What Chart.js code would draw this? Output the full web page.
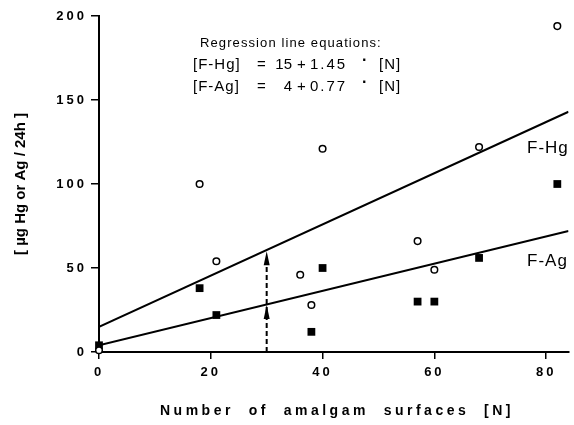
<!DOCTYPE html>
<html>
<head>
<meta charset="utf-8">
<script src="https://cdn.jsdelivr.net/npm/chart.js@4.4.0/dist/chart.umd.min.js"></script>
<style>
  html, body { margin: 0; padding: 0; background: #fff; }
</style>
</head>
<body>
<canvas id="amalgamChart" width="574" height="425"></canvas>
<script>
// values
const hgN   = [0, 18, 21, 36, 38, 40, 57, 60, 68, 82];
const hgVal = [1, 100, 54, 46, 28, 121, 66, 49, 122, 194];
const agN   = [0, 18, 21, 38, 40, 57, 60, 68, 82];
const agVal = [4, 38, 22, 12, 50, 30, 30, 56, 100];

// regression lines as drawn (N = 0 and right edge of the plot)
const fitN  = [0, 84];
const fitHg = [15, 143];
const fitAg = [4, 72];

// dashed arrow at N = 30, arrow tips on the two lines
const arrowN = 30;
const arrowTips = [60, 28];

const xTicks = [0, 20, 40, 60, 80];
const yTicks = [0, 50, 100, 150, 200];

const FONT = 'Liberation Sans, Arial, Helvetica, sans-serif';

const pts = (xs, ys) => xs.map((x, i) => ({ x: x, y: ys[i] }));

// text and the arrow, drawn on top of the chart
const scanExtras = {
  id: 'scanExtras',
  beforeDraw(chart) {
    chart.ctx.letterSpacing = '3px'; // wide tick digits like the scan
  },
  afterDatasetsDraw(chart) {
    const ctx = chart.ctx;
    const xs = chart.scales.x, ys = chart.scales.y;
    const px = xs.getPixelForValue(arrowN);
    ctx.save();
    ctx.strokeStyle = '#000';
    ctx.fillStyle = '#000';
    ctx.lineWidth = 2;
    ctx.setLineDash([5, 3]);
    ctx.beginPath();
    ctx.moveTo(px, ys.getPixelForValue(0));
    ctx.lineTo(px, ys.getPixelForValue(arrowTips[0]) + 6);
    ctx.stroke();
    ctx.setLineDash([]);
    arrowTips.forEach(v => {
      const py = ys.getPixelForValue(v);
      ctx.beginPath();
      ctx.moveTo(px, py);
      ctx.lineTo(px - 3, py + 14);
      ctx.lineTo(px + 3, py + 14);
      ctx.closePath();
      ctx.fill();
    });
    ctx.restore();
  },
  afterDraw(chart) {
    const ctx = chart.ctx;
    ctx.save();
    ctx.fillStyle = '#000';

    // y axis title
    ctx.save();
    ctx.translate(21, 184);
    ctx.rotate(-Math.PI / 2);
    ctx.font = 'bold 15px ' + FONT;
    ctx.letterSpacing = '0px';
    ctx.textAlign = 'center';
    ctx.textBaseline = 'middle';
    ctx.fillText('[ µg Hg or Ag / 24h ]', 0, 0);
    ctx.restore();

    // x axis title
    ctx.font = 'bold 14px ' + FONT;
    ctx.letterSpacing = '3.5px';
    ctx.textAlign = 'left';
    ctx.textBaseline = 'alphabetic';
    ctx.fillText('Number  of  amalgam  surfaces  [N]', 160, 415);

    // regression equations
    ctx.font = '13px ' + FONT;
    ctx.letterSpacing = '1.1px';
    ctx.fillText('Regression line equations:', 200, 47);

    const eqs = [['[F-Hg]', '15', '1.45', 69], ['[F-Ag]', '4', '0.77', 91]];
    eqs.forEach(e => {
      const y = e[3];
      ctx.font = '15px ' + FONT;
      ctx.textAlign = 'left';
      ctx.letterSpacing = '1px';
      ctx.fillText(e[0], 193, y);
      ctx.fillText('=', 257, y);
      ctx.fillText('+', 297, y);
      ctx.fillText('[N]', 379, y);
      ctx.letterSpacing = '2px';
      ctx.fillText(e[2], 310, y);
      ctx.letterSpacing = '0px';
      ctx.textAlign = 'right';
      ctx.fillText(e[1], 292, y);
      ctx.textAlign = 'left';
      ctx.font = 'bold 16px ' + FONT;
      ctx.fillText('·', 362, y - 4);
    });

    // line labels
    ctx.textAlign = 'left';
    ctx.font = '17px ' + FONT;
    ctx.letterSpacing = '1px';
    ctx.fillText('F-Hg', 527, 153);
    ctx.fillText('F-Ag', 527, 266);

    ctx.restore();
  }
};

const ctx = document.getElementById('amalgamChart').getContext('2d');
new Chart(ctx, {
  type: 'scatter',
  data: {
    datasets: [
      {
        label: 'F-Hg fit',
        data: pts(fitN, fitHg),
        showLine: true,
        borderColor: '#000',
        borderWidth: 2,
        pointRadius: 0
      },
      {
        label: 'F-Ag fit',
        data: pts(fitN, fitAg),
        showLine: true,
        borderColor: '#000',
        borderWidth: 2,
        pointRadius: 0
      },
      {
        label: 'F-Hg',
        data: pts(hgN, hgVal),
        pointStyle: 'circle',
        pointRadius: 3.3,
        borderWidth: 1.5,
        borderColor: '#000',
        backgroundColor: '#fff',
        clip: false
      },
      {
        label: 'F-Ag',
        data: pts(agN, agVal),
        pointStyle: 'rect',
        pointRadius: 5.5,
        borderWidth: 0,
        borderColor: '#000',
        backgroundColor: '#000',
        clip: false
      }
    ]
  },
  options: {
    responsive: false,
    animation: false,
    devicePixelRatio: 1,
    layout: { padding: { top: 16, right: 0, bottom: 0, left: 0 } },
    plugins: {
      legend: { display: false },
      tooltip: { enabled: false }
    },
    scales: {
      x: {
        type: 'linear',
        min: 0,
        max: 84,
        afterBuildTicks: s => { s.ticks = xTicks.map(v => ({ value: v })); },
        afterFit: s => { s.height = 73; },
        border: { color: '#000', width: 2 },
        grid: { drawOnChartArea: false, tickLength: 7, color: '#000', lineWidth: 1.5 },
        ticks: {
          color: '#000',
          padding: 6,
          maxRotation: 0,
          autoSkip: false,
          font: { family: FONT, size: 13, weight: 'bold' }
        }
      },
      y: {
        type: 'linear',
        min: 0,
        max: 200,
        afterBuildTicks: s => { s.ticks = yTicks.map(v => ({ value: v })); },
        afterFit: s => { s.width = 99; },
        border: { color: '#000', width: 2 },
        grid: { drawOnChartArea: false, tickLength: 8, color: '#000', lineWidth: 1.5 },
        ticks: {
          color: '#000',
          padding: 4,
          font: { family: FONT, size: 13, weight: 'bold' }
        }
      }
    }
  },
  plugins: [scanExtras]
});
</script>
</body>
</html>
